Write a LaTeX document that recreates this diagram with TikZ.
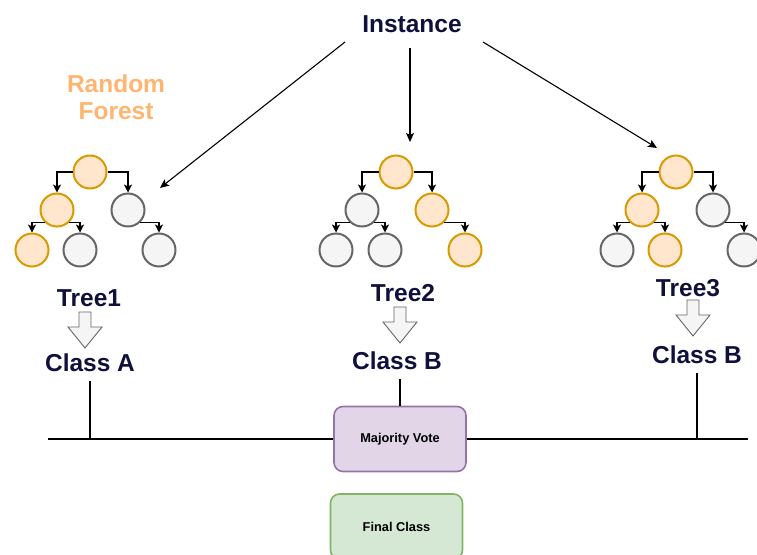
\documentclass[tikz,border=0pt]{standalone}
\usepackage{fontspec}
\setmainfont{Liberation Sans}
\usetikzlibrary{arrows.meta}
\definecolor{hitfill}{HTML}{FFE6CC}
\definecolor{hitdraw}{HTML}{D79B00}
\definecolor{missfill}{HTML}{F5F5F5}
\definecolor{missdraw}{HTML}{666666}
\definecolor{votefill}{HTML}{E1D5E7}
\definecolor{votedraw}{HTML}{9673A6}
\definecolor{finalfill}{HTML}{D5E8D4}
\definecolor{finaldraw}{HTML}{82B366}
\definecolor{forestcol}{HTML}{FFB570}
\definecolor{navy}{HTML}{10103C}
\def\downblock(#1,#2){\draw[blockarrow] (#1-6,#2) -- (#1+6,#2) -- (#1+6,#2+15) -- (#1+17,#2+15) -- (#1,#2+36) -- (#1-17,#2+15) -- (#1-6,#2+15) -- cycle;}

\begin{document}
\begin{tikzpicture}[x=1pt,y=-1pt,
	hit/.style={circle,minimum size=33pt,inner sep=0pt,line width=2pt,draw=hitdraw,fill=hitfill},
	miss/.style={circle,minimum size=33pt,inner sep=0pt,line width=2pt,draw=missdraw,fill=missfill},
	branch/.style={line width=1.3pt,-{Stealth[length=8pt,width=8pt,inset=2pt]}},
	feed/.style={line width=1.1pt,-{Stealth[length=9pt,width=8pt,inset=2pt]}},
	bigtext/.style={text=navy,font=\fontsize{24.5}{27}\selectfont\bfseries,inner sep=0pt},
	classtext/.style={bigtext,inner xsep=0pt,inner ysep=9pt},
	blockarrow/.style={draw=missdraw,fill=missfill,line width=0.9pt,line join=miter},
	boxtext/.style={rounded corners=9pt,line width=1.6pt,minimum width=132pt,minimum height=65pt,font=\fontsize{12.8}{14}\selectfont\bfseries}]
	\useasboundingbox (0,0) rectangle (757,554);

	\node[bigtext] (inst) at (412,24) {Instance};
	\node[bigtext,text=forestcol,align=center] (rf) at (116,97) {Random\\Forest};

	\coordinate (s1) at (345,42);
	\coordinate (s2) at (410,48);
	\coordinate (s3) at (483,42);
	\coordinate (e1) at (160,188);
	\coordinate (e2) at (410,142);
	\coordinate (e3) at (657,148);
	\draw[feed] (s1) -- (e1);
	\draw[feed] (s2) -- (e2);
	\draw[feed] (s3) -- (e3);

	% first tree
	\node[hit] (a0) at (90,172) {};
	\node[hit] (a1) at (57,210) {};
	\node[miss] (a2) at (128,210) {};
	\node[hit] (a3) at (32,250) {};
	\node[miss] (a4) at (80,250) {};
	\node[miss] (a5) at (159,250) {};
	\draw[branch] (a0.west) -| (a1.north);
	\draw[branch] (a0.east) -| (a2.north);
	\draw[branch] (a1.south west) -| (a3.north);
	\draw[branch] (a1.south east) -| (a4.north);
	\draw[branch] (a2.south east) -| (a5.north);

	% second tree
	\node[hit] (b0) at (396,172) {};
	\node[miss] (b1) at (362,210) {};
	\node[hit] (b2) at (432,210) {};
	\node[miss] (b3) at (336,250) {};
	\node[miss] (b4) at (385,250) {};
	\node[hit] (b5) at (465,250) {};
	\draw[branch] (b0.west) -| (b1.north);
	\draw[branch] (b0.east) -| (b2.north);
	\draw[branch] (b1.south west) -| (b3.north);
	\draw[branch] (b1.south east) -| (b4.north);
	\draw[branch] (b2.south east) -| (b5.north);

	% third tree
	\node[hit] (c0) at (676,172) {};
	\node[hit] (c1) at (642,210) {};
	\node[miss] (c2) at (713,210) {};
	\node[miss] (c3) at (617,250) {};
	\node[hit] (c4) at (665,250) {};
	\node[miss] (c5) at (744,250) {};
	\draw[branch] (c0.west) -| (c1.north);
	\draw[branch] (c0.east) -| (c2.north);
	\draw[branch] (c1.south west) -| (c3.north);
	\draw[branch] (c1.south east) -| (c4.north);
	\draw[branch] (c2.south east) -| (c5.north);

	\node[bigtext] (tr1) at (89,298) {Tree1};
	\node[bigtext] (tr2) at (403,293) {Tree2};
	\node[bigtext] (tr3) at (688,288) {Tree3};

	\downblock(85,312)
	\downblock(400,307)
	\downblock(693,300)

	\node[classtext] (cl1) at (90,363) {Class A};
	\node[classtext] (cl2) at (397,361) {Class B};
	\node[classtext] (cl3) at (697,355) {Class B};

	\node[boxtext,draw=votedraw,fill=votefill] (vote) at (400,439) {Majority Vote};
	\node[boxtext,draw=finaldraw,fill=finalfill] (final) at (396.5,526.5) {Final Class};

	\coordinate (busL) at (48,439);
	\coordinate (busR) at (748,439);
	\draw[line width=1.1pt] (busL) -- (vote.west);
	\draw[line width=1.1pt] (vote.east) -- (busR);
	\draw[line width=1.1pt] (cl1.south) -- (cl1.south |- busL);
	\draw[line width=1.1pt] (cl3.south) -- (cl3.south |- busR);
	\draw[line width=1.1pt] (vote.north |- cl2.south) -- (vote.north);
\end{tikzpicture}
\end{document}
